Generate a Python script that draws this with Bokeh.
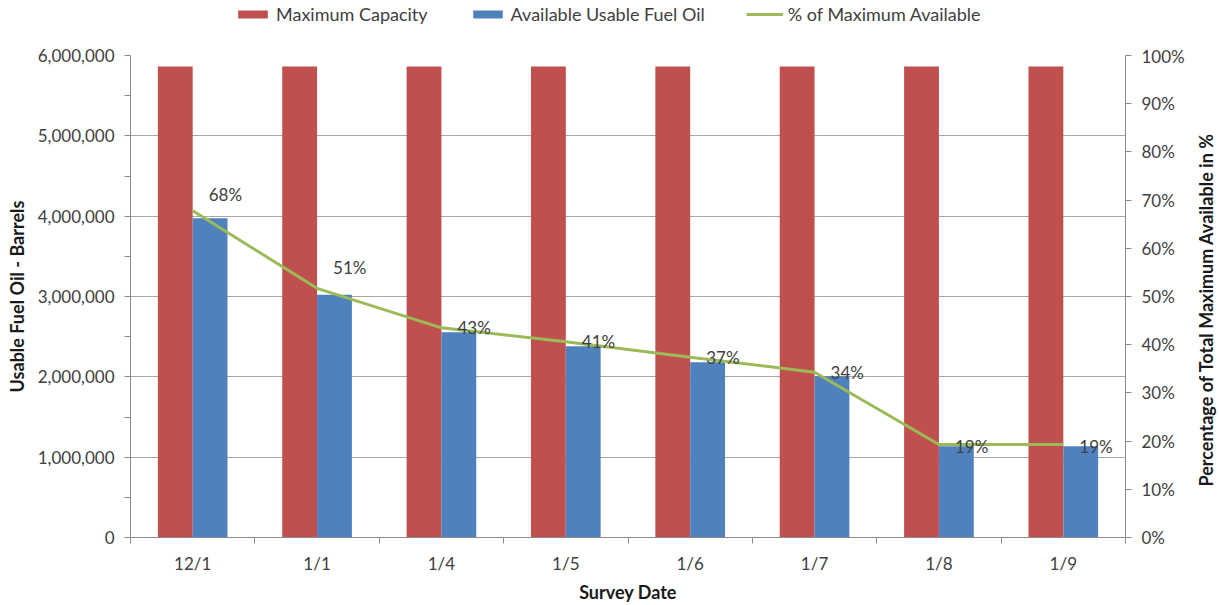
import math
from bokeh.plotting import figure
from bokeh.layouts import column, row
from bokeh.models import (Range1d, LinearAxis, FixedTicker, NumeralTickFormatter,
                          Legend, LegendItem, ColumnDataSource, Label)
from bokeh.core.properties import value
from bokeh.transform import dodge
from bokeh.embed import file_html
from bokeh.resources import INLINE

# ---- data ----
categories = ["12/1", "1/1", "1/4", "1/5", "1/6", "1/7", "1/8", "1/9"]
max_capacity = [5863000, 5863000, 5863000, 5863000, 5863000, 5863000, 5863000, 5863000]
available_fuel = [3975000, 3021000, 2556000, 2382000, 2182000, 2008000, 1137000, 1137000]
pct_available = [0.678, 0.517, 0.435, 0.406, 0.374, 0.343, 0.193, 0.193]
pct_labels = ["68%", "51%", "43%", "41%", "37%", "34%", "19%", "19%"]
series_names = ["Maximum Capacity", "Available Usable Fuel Oil", "% of Maximum Available"]
left_ticks = [0, 1000000, 2000000, 3000000, 4000000, 5000000, 6000000]
right_ticks = [0.0, 0.1, 0.2, 0.3, 0.4, 0.5, 0.6, 0.7, 0.8, 0.9, 1.0]
right_title = "Percentage of Total Maximum Available in %"

# ---- styles ----
label_dy = [-16, -21, 0, 0, 0, 0, 2, 2]
FONT = "Lato"
RED = "#C0504D"
BLUE = "#4F81BD"
GREEN = "#9BBB59"
AXIS_C = "#8C8C8C"
GRID_C = "#A6A6A6"
TXT = "#404040"
TITLE_C = "#1a1a1a"
TOTAL_W = 1219
SIDE_W = 25
W = TOTAL_W - SIDE_W
LEG_H = 45
H = 605

n = len(categories)
xpos = [i + 0.5 for i in range(n)]
src = ColumnDataSource(dict(x=xpos, cat=categories, cap=max_capacity,
                            avail=available_fuel, pct=pct_available,
                            lab=pct_labels, dy=label_dy))

p = figure(width=W, height=H - LEG_H, output_backend="svg", toolbar_location=None,
           x_range=Range1d(0, n), y_range=Range1d(0, 6000000),
           min_border_left=130, min_border_right=W - 1125, min_border_top=10,
           min_border_bottom=68)
p.extra_y_ranges = {"pct": Range1d(0, 1)}
p.outline_line_color = None
p.background_fill_color = "white"
p.border_fill_color = "white"

p.vbar(x=dodge("x", -0.14, range=p.x_range), top="cap", width=0.28,
       source=src, fill_color=RED, line_color=None)
p.vbar(x=dodge("x", 0.14, range=p.x_range), top="avail", width=0.28,
       source=src, fill_color=BLUE, line_color=None)
p.line(x="x", y="pct", source=src, y_range_name="pct",
       line_color=GREEN, line_width=3)
p.text(x="x", y="pct", text="lab", source=src, y_range_name="pct",
       x_offset=16, y_offset="dy", text_align="left", text_baseline="middle",
       text_font=value(FONT), text_font_size="17px", text_color=TXT)

# x axis
xa = p.xaxis[0]
xa.ticker = FixedTicker(ticks=xpos, minor_ticks=list(range(n + 1)))
xa.major_label_overrides = {x: c for x, c in zip(xpos, categories)}
xa.major_tick_out = 0
xa.major_tick_in = 0
xa.minor_tick_out = 6
xa.minor_tick_in = 0
xa.minor_tick_line_color = AXIS_C
xa.axis_line_color = AXIS_C
xa.axis_label = "Survey Date"
xa.major_label_standoff = 9
xa.axis_label_standoff = 4

# left axis
ya = p.yaxis[0]
ya.ticker = FixedTicker(ticks=left_ticks,
                        minor_ticks=[t + 500000 for t in left_ticks[:-1]])
ya.formatter = NumeralTickFormatter(format="0,0")
ya.axis_label = "Usable Fuel Oil - Barrels"
ya.major_tick_out = 6
ya.major_tick_in = 0
ya.minor_tick_out = 6
ya.minor_tick_in = 0
ya.axis_line_color = AXIS_C
ya.major_tick_line_color = AXIS_C
ya.minor_tick_line_color = AXIS_C
ya.major_label_standoff = 10
ya.axis_label_standoff = 7

# right axis (its title is drawn in the side strip so it reads bottom-to-top)
ra = LinearAxis(y_range_name="pct", ticker=FixedTicker(ticks=right_ticks, minor_ticks=[]),
                formatter=NumeralTickFormatter(format="0%"))
ra.major_tick_out = 6
ra.major_tick_in = 0
ra.minor_tick_out = 0
ra.minor_tick_in = 0
ra.axis_line_color = AXIS_C
ra.major_tick_line_color = AXIS_C
ra.major_label_standoff = 10
p.add_layout(ra, "right")

for ax in [xa, ya, ra]:
    ax.major_label_text_font = FONT
    ax.major_label_text_font_size = "17px"
    ax.major_label_text_color = TXT
    ax.axis_label_text_font = FONT
    ax.axis_label_text_font_size = "18px"
    ax.axis_label_text_font_style = "bold"
    ax.axis_label_text_color = TITLE_C

p.xgrid.visible = False
p.ygrid.grid_line_color = GRID_C
p.ygrid.grid_line_width = 1

# ---- legend strip (own small figure above the chart) ----
lg = figure(width=W, height=LEG_H, output_backend="svg", toolbar_location=None,
            x_range=Range1d(0, 1), y_range=Range1d(0, 1),
            min_border_left=0, min_border_right=0, min_border_top=0,
            min_border_bottom=0)
lg.axis.visible = False
lg.grid.visible = False
lg.outline_line_color = None
dummy = ColumnDataSource(dict(x=[-5, -6], top=[0, 0], y=[-5, -6]))
l_cap = lg.vbar(x="x", top="top", width=0.1, source=dummy, fill_color=RED, line_color=None)
l_av = lg.vbar(x="x", top="top", width=0.1, source=dummy, fill_color=BLUE, line_color=None)
l_ln = lg.line(x="x", y="y", source=dummy, line_color=GREEN, line_width=3)

legend = Legend(items=[
    LegendItem(label=series_names[0], renderers=[l_cap]),
    LegendItem(label=series_names[1], renderers=[l_av]),
    LegendItem(label=series_names[2], renderers=[l_ln]),
], orientation="horizontal", location=(104, 20), border_line_color=None,
   background_fill_alpha=0, padding=0, margin=0, spacing=41,
   glyph_width=37, glyph_height=10, label_height=14, label_standoff=5,
   label_text_font=FONT, label_text_font_size="18px", label_text_color=TXT,
   label_text_baseline="middle")
lg.add_layout(legend, "center")

# ---- side strip with the right-hand axis title ----
side = figure(width=SIDE_W, height=H, output_backend="svg", toolbar_location=None,
              x_range=Range1d(0, 1), y_range=Range1d(0, 1),
              min_border_left=0, min_border_right=0, min_border_top=0,
              min_border_bottom=0)
side.axis.visible = False
side.grid.visible = False
side.outline_line_color = None
side.add_layout(Label(x=11, y=296, x_units="screen", y_units="screen",
                      text=right_title, angle=math.pi / 2, text_align="center",
                      text_baseline="middle", text_font=FONT, text_font_size="18px",
                      text_font_style="bold", text_color=TITLE_C))

layout = row(column(lg, p, spacing=0), side, spacing=0)
open("out.html", "w").write(file_html(layout, INLINE))
